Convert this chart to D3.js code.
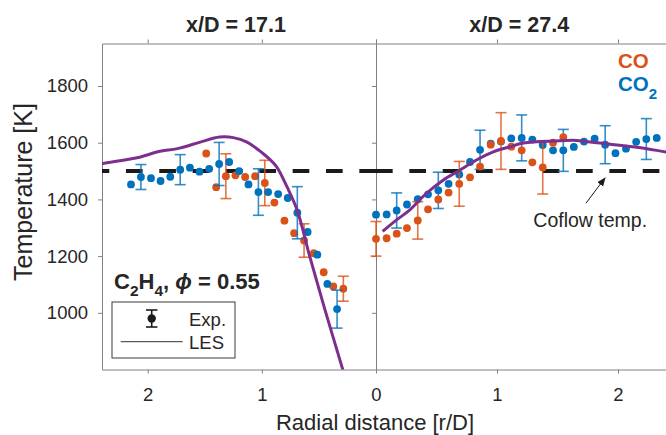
<!DOCTYPE html>
<html><head><meta charset="utf-8">
<script src="https://cdn.jsdelivr.net/npm/d3@7/dist/d3.min.js"></script>
<style>
body{margin:0;background:#fff}
svg{display:block}
text{font-family:"Liberation Sans",Arial,Helvetica,sans-serif;fill:#262626}
</style>
</head><body>
<svg id="chart" width="666" height="435"></svg>
<script>
// ---------- data ----------
const panelTitles = ["x/D = 17.1", "x/D = 27.4"];
const xTicks = [0, 1, 2];
const yTicks = [1000, 1200, 1400, 1600, 1800];
const coflowT = 1500;

// Left panel (x/D = 17.1)
const leftBlueR   = [2.146,2.059,1.971,1.887,1.802,1.715,1.630,1.546,1.461,1.374,1.286,1.199,1.117,1.030,0.945,0.857,0.773,0.689,0.599,0.514,0.426,0.341];
const leftBlueT   = [1453,1479,1475,1465,1480,1505,1512,1498,1508,1525,1532,1500,1453,1426,1426,1419,1405,1353,1285,1205,1102,1013];
const leftBlueErr = [0,44,0,0,0,53,0,0,0,76,0,0,0,82,0,0,0,92,0,0,0,67];

const leftOrangeR   = [1.487,1.400,1.315,1.231,1.146,1.059,0.974,0.890,0.802,0.717,0.630,0.545,0.458,0.374,0.286];
const leftOrangeT   = [1562,1443,1482,1485,1479,1482,1458,1389,1325,1281,1255,1210,1143,1093,1085];
const leftOrangeErr = [0,0,79,0,0,0,80,0,0,0,59,0,0,0,44];

const leftLesR = [2.50,2.40,2.07,1.92,1.72,1.54,1.37,1.25,1.13,0.99,0.93,0.87,0.78,0.69,0.58,0.45,0.28];
const leftLesT = [1518,1526,1549,1567,1581,1602,1620,1618,1602,1562,1541,1515,1445,1362,1198,1015,785];

// Right panel (x/D = 27.4)
const rightBlueR   = [0,0.088,0.171,0.256,0.345,0.430,0.515,0.600,0.688,0.777,0.860,0.948,1.033,1.118,1.204,1.292,1.378,1.463,1.548,1.635,1.719,1.807,1.894,1.979,2.066,2.150,2.234,2.320];
const rightBlueT   = [1346,1347,1361,1382,1401,1418,1432,1455,1488,1532,1575,1597,1604,1615,1617,1611,1592,1573,1573,1585,1604,1614,1593,1563,1579,1603,1613,1617];
const rightBlueErr = [0,0,62,0,0,0,64,0,0,0,69,0,0,0,81,0,0,0,74,0,0,0,67,0,0,0,72,0];

const rightOrangeR   = [0,0.088,0.171,0.256,0.345,0.430,0.515,0.600,0.688,0.777,0.860,0.948,1.033,1.118,1.204,1.292,1.378,1.463,1.548];
const rightOrangeT   = [1261,1263,1279,1299,1326,1365,1400,1424,1455,1478,1516,1593,1606,1586,1573,1531,1513,1600,1620];
const rightOrangeErr = [61,0,0,0,66,0,0,0,79,0,0,0,100,0,0,0,94,0,0];

const rightLesR = [0.055,0.165,0.275,0.413,0.551,0.688,0.826,0.964,1.102,1.198,1.273,1.465,1.658,1.824,1.934,2.155,2.320,2.450];
const rightLesT = [1287,1326,1361,1420,1467,1502,1538,1567,1585,1597,1602,1606,1608,1600,1595,1584,1573,1563];

// ---------- styles ----------
const C_BLUE = "#0072BD", C_ORANGE = "#D95319", C_LES = "#7E2F8E", C_AXIS = "#808080";

const svg = d3.select("#chart");
const plotTop = 43.5, plotBottom = 369.5;
const y = d3.scaleLinear().domain([800, 1950]).range([plotBottom, plotTop]);
const xL = d3.scaleLinear().domain([0, 2.4]).range([376, 102]);
const xR = d3.scaleLinear().domain([0, 2.4]).range([376, 666.4]);
const fmt = d3.format("d");

const zip = (r, t, e) => r.map((v, i) => ({r: v, t: t[i], e: e ? e[i] : 0}));

function styleAxis(g) {
  g.selectAll("path.domain").attr("stroke", C_AXIS).attr("stroke-width", 1);
  g.selectAll(".tick line").attr("stroke", C_AXIS).attr("stroke-width", 1);
  g.selectAll(".tick text").attr("fill", "#262626").style("font-size", "18.5px")
    .style("font-family", '"Liberation Sans",Arial,sans-serif');
}

const defs = svg.append("defs");
defs.append("clipPath").attr("id", "clipL").append("rect")
  .attr("x", 102).attr("y", plotTop).attr("width", 376 - 102).attr("height", plotBottom - plotTop);
defs.append("clipPath").attr("id", "clipR").append("rect")
  .attr("x", 376).attr("y", plotTop).attr("width", 666 - 376).attr("height", plotBottom - plotTop);
defs.append("marker").attr("id", "arrow").attr("viewBox", "0 0 10 10")
  .attr("refX", 9).attr("refY", 5).attr("markerWidth", 9).attr("markerHeight", 9)
  .attr("markerUnits", "userSpaceOnUse").attr("orient", "auto")
  .append("path").attr("d", "M0,1 L10,5 L0,9 Z").attr("fill", "#1a1a1a");

// ---------- axes ----------
svg.append("g").attr("transform", `translate(0,${plotBottom})`)
  .call(d3.axisBottom(xL).tickValues(xTicks).tickFormat(fmt).tickSizeInner(4).tickSizeOuter(0).tickPadding(14))
  .call(styleAxis);
svg.append("g").attr("transform", `translate(0,${plotTop})`)
  .call(d3.axisTop(xL).tickValues(xTicks).tickSizeInner(4).tickSizeOuter(0).tickFormat(""))
  .call(styleAxis);
svg.append("g").attr("transform", `translate(102,0)`)
  .call(d3.axisLeft(y).tickValues(yTicks).tickFormat(fmt).tickSizeInner(4).tickSizeOuter(0).tickPadding(10))
  .call(styleAxis);
svg.append("g").attr("transform", `translate(376,0)`)
  .call(d3.axisLeft(y).tickValues(yTicks).tickSizeInner(4).tickSizeOuter(0).tickFormat(""))
  .call(styleAxis);
svg.append("g").attr("transform", `translate(0,${plotBottom})`)
  .call(d3.axisBottom(xR).tickValues(xTicks.filter(v => v > 0)).tickFormat(fmt).tickSizeInner(4).tickSizeOuter(0).tickPadding(14))
  .call(styleAxis);
svg.append("g").attr("transform", `translate(0,${plotTop})`)
  .call(d3.axisTop(xR).tickValues(xTicks).tickSizeInner(4).tickSizeOuter(0).tickFormat(""))
  .call(styleAxis);

// ---------- panels ----------
function drawPanel(x, clipId, series, les) {
  const g = svg.append("g");
  g.append("path")
    .datum([0, 2.4])
    .attr("d", d3.line().x(d => x(d)).y(() => y(coflowT)))
    .attr("fill", "none").attr("stroke", "#1a1a1a").attr("stroke-width", 4)
    .attr("stroke-dasharray", "16.67 16.67");
  series.forEach(s => {
    const pts = s.data;
    const eb = g.append("g").attr("stroke", s.color).attr("stroke-width", 1.6).attr("stroke-opacity", 0.8);
    pts.filter(d => d.e > 0).forEach(d => {
      const cx = x(d.r), y1 = y(d.t - d.e), y2 = y(d.t + d.e);
      eb.append("line").attr("x1", cx).attr("x2", cx).attr("y1", y1).attr("y2", y2);
      eb.append("line").attr("x1", cx - 5.5).attr("x2", cx + 5.5).attr("y1", y1).attr("y2", y1);
      eb.append("line").attr("x1", cx - 5.5).attr("x2", cx + 5.5).attr("y1", y2).attr("y2", y2);
    });
    g.append("g").selectAll("circle").data(pts).join("circle")
      .attr("cx", d => x(d.r)).attr("cy", d => y(d.t)).attr("r", 3.9)
      .attr("fill", s.color);
  });
  const lesPts = les.slice().sort((a, b) => x(a.r) - x(b.r));
  g.append("path").datum(lesPts)
    .attr("clip-path", `url(#${clipId})`)
    .attr("d", d3.line().x(d => x(d.r)).y(d => y(d.t)).curve(d3.curveCatmullRom.alpha(0.5)))
    .attr("fill", "none").attr("stroke", C_LES).attr("stroke-width", 3);
}

drawPanel(xL, "clipL",
  [{data: zip(leftOrangeR, leftOrangeT, leftOrangeErr), color: C_ORANGE},
   {data: zip(leftBlueR, leftBlueT, leftBlueErr), color: C_BLUE}],
  zip(leftLesR, leftLesT));
drawPanel(xR, "clipR",
  [{data: zip(rightBlueR, rightBlueT, rightBlueErr), color: C_BLUE},
   {data: zip(rightOrangeR, rightOrangeT, rightOrangeErr), color: C_ORANGE}],
  zip(rightLesR, rightLesT));

// ---------- titles & labels ----------
svg.append("text").attr("x", (xL(0) + xL(2.4)) / 2 - 3).attr("y", 31.7)
  .attr("text-anchor", "middle").style("font-size", "21.5px").style("font-weight", "bold")
  .text(panelTitles[0]);
svg.append("text").attr("x", (xR(0) + xR(2.4)) / 2 - 2).attr("y", 31.7)
  .attr("text-anchor", "middle").style("font-size", "21.5px").style("font-weight", "bold")
  .text(panelTitles[1]);

svg.append("text").attr("x", 375).attr("y", 430)
  .attr("text-anchor", "middle").style("font-size", "22px")
  .text("Radial distance [r/D]");
svg.append("text").attr("transform", "translate(32,192) rotate(-90)")
  .attr("text-anchor", "middle").style("font-size", "25px")
  .text("Temperature [K]");

svg.append("text").attr("x", 618).attr("y", 68.3)
  .style("font-size", "20.5px").style("font-weight", "bold").style("fill", C_ORANGE).text("CO");
const co2 = svg.append("text").attr("x", 618).attr("y", 90.7)
  .style("font-size", "20.5px").style("font-weight", "bold").style("fill", C_BLUE);
co2.append("tspan").text("CO");
co2.append("tspan").attr("dy", 8).style("font-size", "15px").text("2");

const fuel = svg.append("text").attr("x", 114).attr("y", 289.3)
  .style("font-size", "22px").style("font-weight", "bold");
fuel.append("tspan").text("C");
fuel.append("tspan").attr("dy", 7).style("font-size", "15.5px").text("2");
fuel.append("tspan").attr("dy", -7).text("H");
fuel.append("tspan").attr("dy", 7).style("font-size", "15.5px").text("4");
fuel.append("tspan").attr("dy", -7).text(", ");
fuel.append("tspan").style("font-style", "italic").text("\u03D5");
fuel.append("tspan").text(" = 0.55");

const lg = svg.append("g");
lg.append("rect").attr("x", 112).attr("y", 302).attr("width", 123).attr("height", 56)
  .attr("fill", "#fff").attr("stroke", "#262626").attr("stroke-width", 0.9);
lg.append("line").attr("x1", 151.7).attr("x2", 151.7).attr("y1", 310).attr("y2", 327)
  .attr("stroke", "#1a1a1a").attr("stroke-width", 1.6);
lg.append("line").attr("x1", 146).attr("x2", 157.4).attr("y1", 310).attr("y2", 310)
  .attr("stroke", "#1a1a1a").attr("stroke-width", 1.6);
lg.append("line").attr("x1", 146).attr("x2", 157.4).attr("y1", 327).attr("y2", 327)
  .attr("stroke", "#1a1a1a").attr("stroke-width", 1.6);
lg.append("circle").attr("cx", 151.7).attr("cy", 318.5).attr("r", 4.2).attr("fill", "#1a1a1a");
lg.append("text").attr("x", 189).attr("y", 326).style("font-size", "18.5px").text("Exp.");
lg.append("line").attr("x1", 120.7).attr("x2", 182.7).attr("y1", 341.7).attr("y2", 341.7)
  .attr("stroke", "#333").attr("stroke-width", 1);
lg.append("text").attr("x", 189).attr("y", 349.3).style("font-size", "18.5px").text("LES");

svg.append("text").attr("x", xR(1.30)).attr("y", y(1302))
  .style("font-size", "19.5px").text("Coflow temp.");
svg.append("line")
  .attr("x1", xR(1.736)).attr("y1", y(1387))
  .attr("x2", xR(1.893)).attr("y2", y(1476))
  .attr("stroke", "#1a1a1a").attr("stroke-width", 1)
  .attr("marker-end", "url(#arrow)");
</script>
</body></html>
